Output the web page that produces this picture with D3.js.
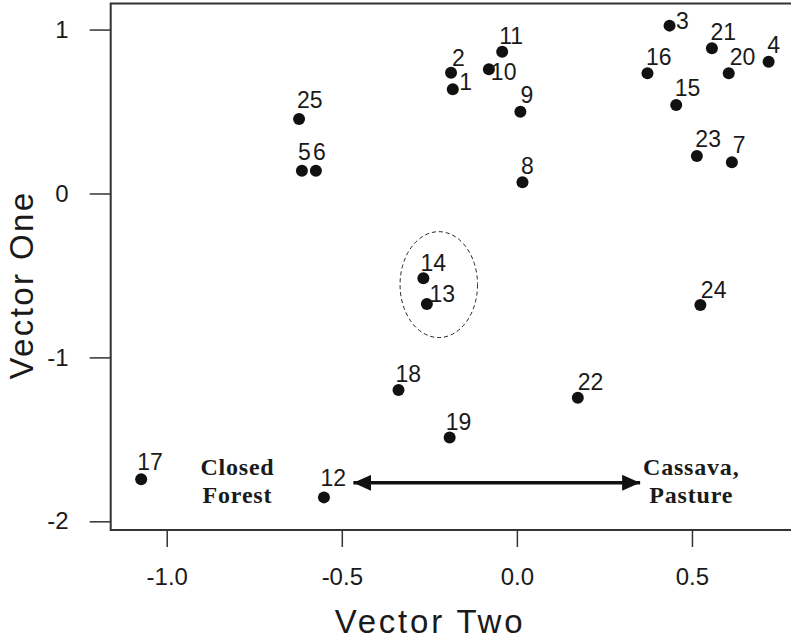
<!DOCTYPE html>
<html>
<head>
<meta charset="utf-8">
<script src="https://cdn.jsdelivr.net/npm/d3@7"></script>
<style>
  body { margin: 0; background: #fff; }
  text { font-family: "Liberation Sans", Arial, sans-serif; fill: #1a1a1a; }
</style>
</head>
<body>
<div id="chart"></div>
<script>
// data: site ids, Vector Two (x) and Vector One (y)
const siteIds   = [1, 2, 3, 4, 5, 6, 7, 8, 9, 10, 11, 12, 13, 14, 15, 16, 17, 18, 19, 20, 21, 22, 23, 24, 25];
const vectorTwo = [-0.183, -0.188, 0.436, 0.719, -0.614, -0.574, 0.614, 0.016, 0.010, -0.080, -0.042, -0.551, -0.257,
                   -0.267, 0.455, 0.373, -1.073, -0.338, -0.192, 0.605, 0.557, 0.174, 0.514, 0.524, -0.622];
const vectorOne = [0.636, 0.737, 1.024, 0.804, 0.139, 0.139, 0.190, 0.068, 0.499, 0.758, 0.865, -1.854, -0.674,
                   -0.517, 0.540, 0.733, -1.744, -1.199, -1.488, 0.733, 0.886, -1.246, 0.229, -0.680, 0.455];

const xTicks = [-1.0, -0.5, 0.0, 0.5];
const yTicks = [-2, -1, 0, 1];

// gradient arrow ends and the two end labels
const arrowFrom = -0.467, arrowTo = 0.352, arrowAt = -1.765;
const endLabels = [
  {x: -0.798, lines: ["Closed", "Forest"]},
  {x: 0.498, lines: ["Cassava,", "Pasture"]}
];
// dashed ring round sites 13 and 14 (centre and radii in data units)
const ring = {cx: -0.223, cy: -0.556, rx: 0.1106, ry: 0.323};

// label nudges (px, relative to the point), default is up-left
const nudge = {1: [6.5, 1], 3: [6.5, 3], 10: [2, 10.5], 13: [2.5, -2], 5: [-4, -11], 6: [-3, -11],
               25: [-2, -11], 12: [-3.5, -11], 17: [-4, -9], 19: [-4, -7], 14: [-3, -7], 11: [-3, -8],
               18: [-3, -8], 24: [0.5, -7], 2: [1, -7], 20: [1, -8], 7: [1, -9], 22: [0, -8], 9: [0, -9]};

const width = 791, height = 640;
const margin = {top: 3.5, right: -6, bottom: 110, left: 110.7};

const svg = d3.select("#chart")
  .append("svg")
  .attr("width", width)
  .attr("height", height);

const x = d3.scaleLinear().domain([-1.16, 0.80]).range([margin.left, width - margin.right]);
const y = d3.scaleLinear().domain([-2.053, 1.159]).range([height - margin.bottom, margin.top]);

// Eixo vertical
const yAxis = svg.append("g")
  .attr("transform", "translate(" + margin.left + ",0)")
  .call(d3.axisLeft(y).tickValues(yTicks).tickSize(21).tickPadding(21).tickFormat(d => String(d)));
yAxis.select(".domain").remove();
yAxis.selectAll("line").attr("stroke", "#333").attr("stroke-width", 1.5);
yAxis.selectAll("text").attr("font-size", 24).attr("font-family", null).attr("fill", "#1a1a1a");

// Eixo horizontal
const xAxis = svg.append("g")
  .attr("transform", "translate(0," + (height - margin.bottom) + ")")
  .call(d3.axisBottom(x).tickValues(xTicks).tickSize(17).tickPadding(21).tickFormat(d => d.toFixed(1)));
xAxis.select(".domain").remove();
xAxis.selectAll("line").attr("stroke", "#333").attr("stroke-width", 1.5);
xAxis.selectAll("text").attr("font-size", 24).attr("font-family", null).attr("fill", "#1a1a1a");

// plot box
svg.append("rect")
  .attr("x", margin.left)
  .attr("y", margin.top)
  .attr("width", width - margin.right - margin.left)
  .attr("height", height - margin.bottom - margin.top)
  .attr("fill", "none")
  .attr("stroke", "#333")
  .attr("stroke-width", 2);

// axis titles
svg.append("text")
  .attr("x", 430)
  .attr("y", 633)
  .attr("text-anchor", "middle")
  .attr("font-size", 33)
  .attr("letter-spacing", 2.8)
  .text("Vector Two");

svg.append("text")
  .attr("transform", "translate(33,285) rotate(-90)")
  .attr("text-anchor", "middle")
  .attr("font-size", 33)
  .attr("letter-spacing", 2.4)
  .text("Vector One");

// ring
svg.append("ellipse")
  .attr("cx", x(ring.cx))
  .attr("cy", y(ring.cy))
  .attr("rx", x(ring.cx + ring.rx) - x(ring.cx))
  .attr("ry", y(ring.cy) - y(ring.cy + ring.ry))
  .attr("fill", "none")
  .attr("stroke", "#222")
  .attr("stroke-width", 1)
  .attr("stroke-dasharray", "4,3");

// arrow
const defs = svg.append("defs");
defs.append("marker")
  .attr("id", "head")
  .attr("viewBox", "0 0 18 16")
  .attr("refX", 18).attr("refY", 8)
  .attr("markerWidth", 18).attr("markerHeight", 16)
  .attr("markerUnits", "userSpaceOnUse")
  .attr("orient", "auto-start-reverse")
  .append("path")
  .attr("d", "M0,0L18,8L0,16Z")
  .attr("fill", "#111");

svg.append("line")
  .attr("x1", x(arrowFrom)).attr("y1", y(arrowAt))
  .attr("x2", x(arrowTo)).attr("y2", y(arrowAt))
  .attr("stroke", "#111")
  .attr("stroke-width", 3.5)
  .attr("marker-start", "url(#head)")
  .attr("marker-end", "url(#head)");

// end labels
svg.append("g")
  .selectAll("text")
  .data(endLabels)
  .join("text")
    .attr("x", d => x(d.x))
    .attr("y", y(arrowAt) - 8)
    .attr("text-anchor", "middle")
    .attr("font-family", "'Liberation Serif', 'Times New Roman', serif")
    .attr("font-weight", "bold")
    .attr("font-size", 24)
    .attr("letter-spacing", 0.8)
    .style("font-family", "'Liberation Serif', 'Times New Roman', serif")
    .selectAll("tspan")
    .data(d => d.lines.map(l => ({l, x: d.x})))
    .join("tspan")
      .attr("x", d => x(d.x))
      .attr("dy", (d, i) => i ? 28 : 0)
      .text(d => d.l);

// DATA
const pts = siteIds.map((id, i) => ({id, vx: vectorTwo[i], vy: vectorOne[i]}));

svg.append("g")
  .selectAll("circle")
  .data(pts)
  .join("circle")
    .attr("cx", d => x(d.vx))
    .attr("cy", d => y(d.vy))
    .attr("r", 6)
    .attr("fill", "#111");

svg.append("g")
  .selectAll("text")
  .data(pts)
  .join("text")
    .attr("x", d => x(d.vx) + (nudge[d.id] || [-1.5, -8.5])[0])
    .attr("y", d => y(d.vy) + (nudge[d.id] || [-1.5, -8.5])[1])
    .attr("font-size", 23)
    .text(d => d.id);
</script>
</body>
</html>
